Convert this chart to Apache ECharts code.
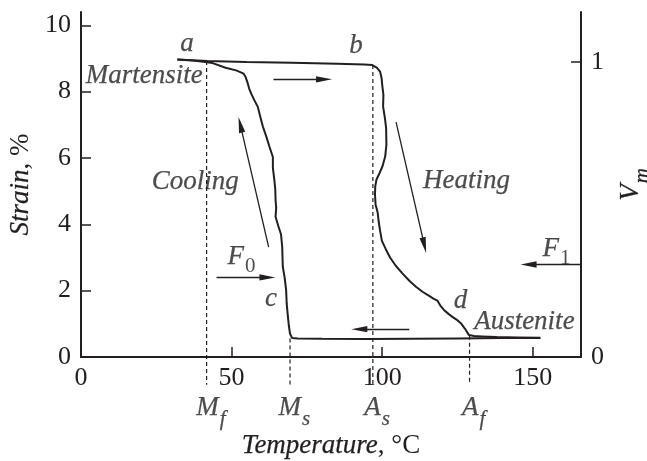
<!DOCTYPE html>
<html>
<head>
<meta charset="utf-8">
<script src="https://cdn.jsdelivr.net/npm/echarts@6/dist/echarts.min.js"></script>
<style>
  html, body { margin: 0; padding: 0; background: #fff; }
  #chart { width: 647px; height: 461px; }
</style>
</head>
<body>
<div id="chart"></div>
<script>
// ---- data ---------------------------------------------------------------
// axis ticks
const tempTicks = [0, 50, 100, 150];
const strainTicks = [0, 2, 4, 6, 8, 10];
const fractionTicks = [0, 1];

// heating branch [temperature °C, strain %]: a -> b -> d -> austenite
const heating = [
  [32, 8.97], [42, 8.92], [55, 8.89], [70, 8.87], [85, 8.84], [94, 8.82],
  [96.7, 8.80], [98.2, 8.72], [99.3, 8.60], [99.8, 8.40], [100.0, 8.20],
  [100.4, 7.90], [100.3, 7.55], [100.9, 7.20], [101.3, 6.90], [101.4, 6.40],
  [101.0, 6.05], [100.1, 5.75], [98.9, 5.50], [98.1, 5.35], [97.7, 5.15],
  [97.6, 4.90], [97.8, 4.60], [98.5, 4.35], [98.8, 4.10], [99.3, 3.80],
  [99.9, 3.50], [101.2, 3.25], [102.6, 3.00], [104.5, 2.75], [106.7, 2.52],
  [109.0, 2.30], [111.2, 2.12], [113.5, 1.96], [115.6, 1.84], [117.0, 1.76],
  [118.3, 1.70], [119.3, 1.55], [120.5, 1.42], [122.0, 1.30], [123.3, 1.21],
  [124.8, 1.12], [126.1, 1.02], [127.5, 0.85], [128.8, 0.66], [130.5, 0.63],
  [133, 0.62], [138, 0.60], [145, 0.59], [152.5, 0.58]
];

// cooling branch [temperature °C, strain %]: austenite -> c -> a
const cooling = [
  [152.5, 0.57], [140, 0.57], [125, 0.56], [110, 0.55], [95, 0.54], [80, 0.55],
  [72, 0.56], [70.1, 0.57], [69.4, 0.70], [69.0, 0.95], [68.7, 1.21],
  [68.3, 1.60], [68.1, 2.02], [67.6, 2.40], [67.0, 2.72], [66.9, 3.00],
  [66.8, 3.32], [66.4, 3.70], [65.5, 3.95], [64.6, 4.23], [64.8, 4.50],
  [64.6, 4.73], [64.5, 5.05], [64.2, 5.33], [63.7, 5.70], [63.7, 6.03],
  [62.6, 6.33], [61.5, 6.65], [60.4, 6.94], [59.5, 7.25], [58.7, 7.54],
  [57.5, 7.75], [56.5, 7.94], [55.8, 8.10], [55.4, 8.24], [54.6, 8.45],
  [54.0, 8.54], [51.5, 8.64], [48, 8.72], [43.7, 8.86], [38, 8.93], [32, 8.97]
];

// transformation temperatures: [letter, subscript, temperature, strain where the marker starts]
const transitions = [
  ['M', 'f', 41.7, 8.92],
  ['M', 's', 69.4, 0.56],
  ['A', 's', 96.9, 8.80],
  ['A', 'f', 129.0, 0.64]
];

// ---- annotation placement (data coordinates) ---------------------------
const words = [
  ['a', 35.2, 9.38], ['b', 91.3, 9.33], ['c', 63.1, 1.70], ['d', 126.0, 1.64],
  ['Martensite', 21.0, 8.44], ['Cooling', 37.9, 5.22],
  ['Heating', 128.0, 5.25], ['Austenite', 147.2, 1.01]
];
const forces = [['F', '0', 53.3, 2.97], ['F', '1', 157.9, 3.22]];
const arrows = [ // [from T, from strain, to T, to strain]
  [63.9, 8.37, 80.7, 8.37],
  [62.3, 3.31, 52.9, 7.00],
  [104.6, 7.08, 114.0, 3.37],
  [45.0, 2.40, 61.9, 2.40],
  [109.0, 0.84, 92.4, 0.84],
  [165.9, 2.79, 148.6, 2.79]
];
const MARKER_BOTTOM = -0.84;
const MARKER_LABEL = -1.58;

// ---- chart --------------------------------------------------------------
const INK = '#231f20';
const FONT = 'Liberation Serif';
const X_MAX = 166, Y_MAX = 10.4, VM_MAX = 1.17;

const ink = { color: INK, textBorderColor: INK, textBorderWidth: 0.25 };
const rich = {
  i:  { fontFamily: FONT, fontStyle: 'italic', fontSize: 27, lineHeight: 30, verticalAlign: 'top', ...ink },
  r:  { fontFamily: FONT, fontSize: 27, lineHeight: 30, verticalAlign: 'top', color: INK },
  si: { fontFamily: FONT, fontStyle: 'italic', fontSize: 21, lineHeight: 21, padding: [15, 0, 0, 1], verticalAlign: 'top', ...ink },
  sr: { fontFamily: FONT, fontSize: 21, lineHeight: 21, padding: [13, 0, 0, 1], verticalAlign: 'top', color: INK }
};
const tickText = { fontFamily: FONT, fontSize: 26, color: INK };

const arrowHead = 'path://M10,0L14,20L6,20ZM0,0L0,0M20,20L20,20';

const labelPoints = []
  .concat(words.map(([t, x, y]) => ({ value: [x, y], label: { formatter: '{i|' + t + '}' } })))
  .concat(forces.map(([m, s, x, y]) => ({ value: [x, y], label: { formatter: '{i|' + m + '}{sr|' + s + '}' } })))
  .concat(transitions.map(([m, s, x]) => ({ value: [x + 1.4, MARKER_LABEL], label: { formatter: '{i|' + m + '}{si|' + s + '}' } })));

const axisCommon = {
  splitLine: { show: false },
  axisLine: { show: true, onZero: false, lineStyle: { color: INK, width: 2 } },
  axisTick: { show: true, inside: true, length: 10, lineStyle: { color: INK, width: 1.5 } }
};

const option = {
  animation: false,
  backgroundColor: '#fff',
  grid: { left: 81, right: 66, top: 12, bottom: 104, containLabel: false, outerBoundsMode: 'none' },
  xAxis: {
    type: 'value', min: 0, max: X_MAX,
    ...axisCommon,
    axisTick: { ...axisCommon.axisTick, customValues: tempTicks },
    axisLabel: { customValues: tempTicks, margin: 8, ...tickText },
    name: '{i|Temperature}{r|, °C}',
    nameLocation: 'middle', nameGap: 75,
    nameTextStyle: { rich }
  },
  yAxis: [
    {
      type: 'value', min: 0, max: Y_MAX, position: 'left',
      ...axisCommon,
      axisTick: { ...axisCommon.axisTick, customValues: strainTicks },
      axisLabel: { customValues: strainTicks, margin: 10, ...tickText },
      name: '{i|Strain}{r|, %}',
      nameLocation: 'middle', nameRotate: 90, nameGap: 39,
      nameTextStyle: { rich }
    },
    {
      type: 'value', min: 0, max: VM_MAX, position: 'right',
      ...axisCommon,
      axisTick: { ...axisCommon.axisTick, customValues: [1] },
      axisLabel: { customValues: fractionTicks, margin: 10, ...tickText },
      name: '{i|V}{si|m}',
      nameLocation: 'middle', nameRotate: 90, nameGap: 36,
      nameTextStyle: { rich }
    }
  ],
  series: [
    {
      type: 'line', data: heating, symbol: 'none', silent: true,
      lineStyle: { color: INK, width: 2 }
    },
    {
      type: 'line', data: cooling, symbol: 'none', silent: true,
      lineStyle: { color: INK, width: 2 }
    },
    ...transitions.map(([, , t, top]) => ({
      type: 'line', data: [[t, top], [t, MARKER_BOTTOM]], clip: false,
      symbol: 'none', silent: true,
      lineStyle: { color: INK, width: 1.2, type: [4, 3] }
    })),
    {
      type: 'lines', coordinateSystem: 'cartesian2d', silent: true,
      data: arrows.map(a => ({ coords: [[a[0], a[1]], [a[2], a[3]]] })),
      symbol: ['none', arrowHead], symbolSize: 16,
      itemStyle: { color: INK },
      lineStyle: { color: INK, width: 1.3, opacity: 1, curveness: 0 }
    },
    {
      type: 'scatter', data: labelPoints, clip: false, silent: true,
      symbolSize: 1, itemStyle: { color: 'rgba(0,0,0,0)' },
      label: { show: true, position: 'inside', color: INK, rich }
    }
  ]
};

const chart = echarts.init(document.getElementById('chart'));
chart.setOption(option);
</script>
</body>
</html>
